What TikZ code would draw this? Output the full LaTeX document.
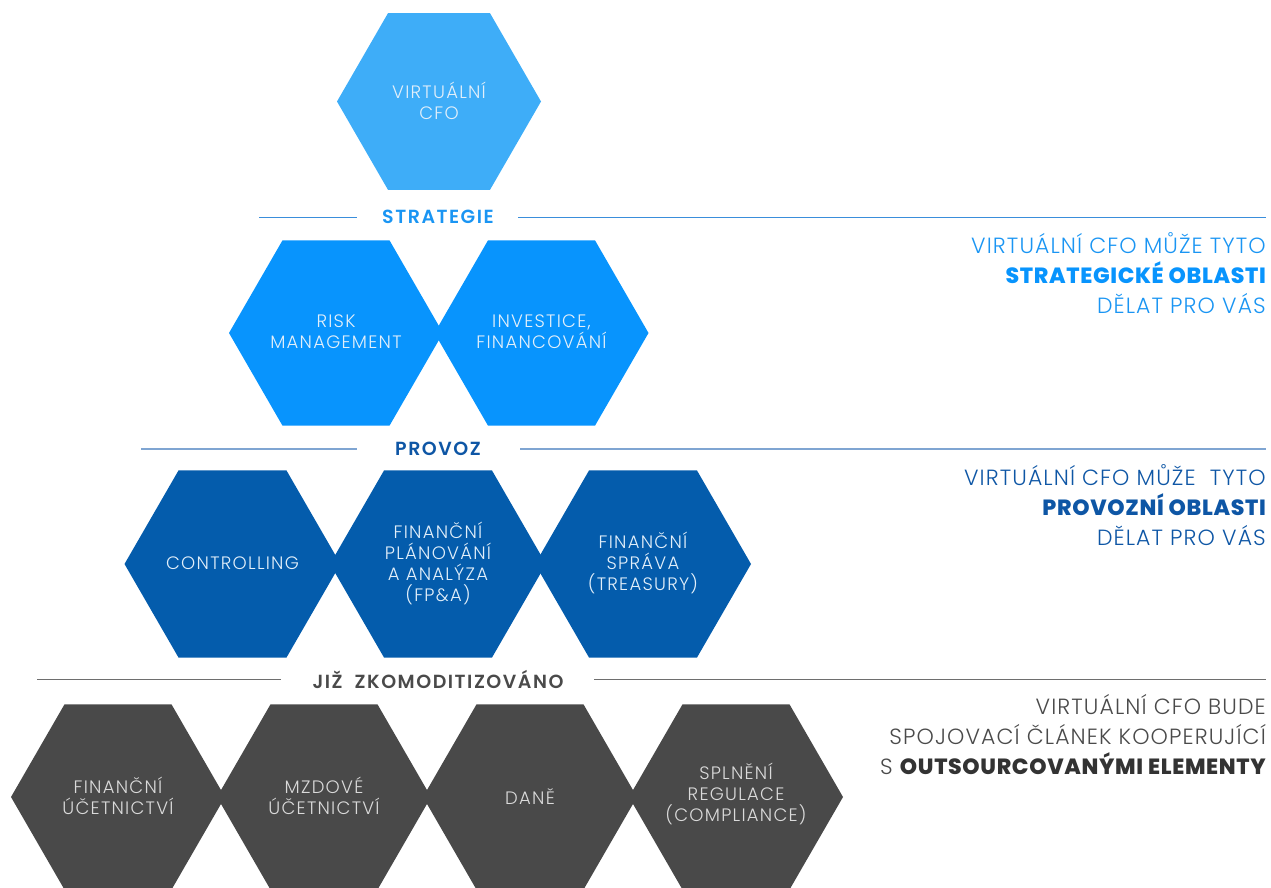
\documentclass[tikz,border=0pt]{standalone}
\usepackage{fontspec}
\setmainfont{Poppins Light}
\newfontfamily\heavyfont{Poppins ExtraBold}[LetterSpace=3]
\newfontfamily\semifont{Poppins SemiBold}[LetterSpace=8]
\newfontfamily\hexfont{Poppins Light}[LetterSpace=7]
\newfontfamily\sidefont{Poppins Light}[LetterSpace=5]
\usetikzlibrary{shapes.geometric}
\definecolor{cTop}{HTML}{3EADF8}
\definecolor{cStr}{HTML}{0894FD}
\definecolor{cPro}{HTML}{045CAC}
\definecolor{cKom}{HTML}{494949}
\definecolor{tStr}{HTML}{1A95F3}
\definecolor{tPro}{HTML}{0E56A5}
\definecolor{tKom}{HTML}{4A4A4A}
\definecolor{lStr}{HTML}{3A8EDB}
\definecolor{lPro}{HTML}{7FA5D2}
\definecolor{lKom}{HTML}{6E6E6E}
\definecolor{hexblue}{HTML}{E2EFFA}
\definecolor{hexgray}{HTML}{DADADA}
\begin{document}
\begin{tikzpicture}[x=1pt,y=-1pt,
  hexa/.style={regular polygon, regular polygon sides=6, inner sep=0pt, outer sep=0pt},
  hexkom/.style={hexa, fill=cKom, minimum size=214pt},
  hexpro/.style={hexa, fill=cPro, minimum size=216pt},
  hexstr/.style={hexa, fill=cStr, minimum size=214pt},
  hextext/.style={align=center, inner sep=0pt, text=hexblue, yshift=0.8pt,
    font=\hexfont\fontsize{18}{21}\selectfont},
  graytext/.style={hextext, text=hexgray},
  seclabel/.style={font=\semifont\fontsize{19}{20}\selectfont, inner sep=0pt},
  sideblock/.style={anchor=east, align=right, inner sep=0pt, font=\sidefont\fontsize{22}{30}\selectfont},
]
\useasboundingbox (0,0) rectangle (1271,888);

% top
\node[hexa, fill=cTop, minimum size=204pt] (cfo) at (439,101.5) {};
\node[hextext] (cfoT) at (cfo.center) {VIRTUÁLNÍ\\CFO};

% strategie
\node[seclabel, text=tStr] (lblS) at (438,217) {STRATEGIE};
\coordinate (s1) at (259,217); \coordinate (s2) at (357,217);
\coordinate (s3) at (518,217); \coordinate (s4) at (1266,217);
\draw[lStr, line width=0.9pt] (s1) -- (s2);
\draw[lStr, line width=0.9pt] (s3) -- (s4);
\node[hexstr] (risk) at (336,333) {};
\node[hextext] (riskT) at ([yshift=1pt]risk.center) {RISK\\MANAGEMENT};
\node[hexstr] (inv) at (541.5,333) {};
\node[hextext] (invT) at ([yshift=1pt]inv.center) {INVESTICE,\\FINANCOVÁNÍ};

% provoz
\node[seclabel, text=tPro] (lblP) at (438,449) {PROVOZ};
\coordinate (p1) at (141,449); \coordinate (p2) at (357,449);
\coordinate (p3) at (520,449); \coordinate (p4) at (1266,449);
\draw[lPro, line width=1.3pt] (p1) -- (p2);
\draw[lPro, line width=1.3pt] (p3) -- (p4);
\node[hexpro] (ctrl) at (232.5,564) {};
\node[hextext] (ctrlT) at (ctrl.center) {CONTROLLING};
\node[hexpro] (fpa) at (438,564) {};
\node[hextext] (fpaT) at (fpa.center) {FINANČNÍ\\PLÁNOVÁNÍ\\A ANALÝZA\\(FP\&A)};
\node[hexpro] (tre) at (643,564) {};
\node[hextext] (treT) at (tre.center) {FINANČNÍ\\SPRÁVA\\(TREASURY)};

% komodity
\node[seclabel, text=tKom] (lblK) at (438,679) {JIŽ\ \ ZKOMODITIZOVÁNO};
\coordinate (k1) at (37,679); \coordinate (k2) at (281,679);
\coordinate (k3) at (594,679); \coordinate (k4) at (1266,679);
\draw[lKom, line width=0.9pt] (k1) -- (k2);
\draw[lKom, line width=0.9pt] (k3) -- (k4);
\node[hexkom] (uct) at (118,797) {};
\node[graytext] (uctT) at (uct.center) {FINANČNÍ\\ÚČETNICTVÍ};
\node[hexkom] (mzd) at (324,797) {};
\node[graytext] (mzdT) at (mzd.center) {MZDOVÉ\\ÚČETNICTVÍ};
\node[hexkom] (dan) at (530,797) {};
\node[graytext] (danT) at (dan.center) {DANĚ};
\node[hexkom] (spl) at (736,797) {};
\node[graytext] (splT) at ([yshift=2pt]spl.center) {SPLNĚNÍ\\REGULACE\\(COMPLIANCE)};

% side texts
\node[sideblock, text=tStr] (txS) at (1266,273) {VIRTUÁLNÍ CFO MŮŽE TYTO\\{\heavyfont\color{cStr}STRATEGICKÉ OBLASTI}\\DĚLAT PRO VÁS};
\node[sideblock, text=tPro] (txP) at (1266,505.5) {VIRTUÁLNÍ CFO MŮŽE\ \ TYTO\\{\heavyfont PROVOZNÍ OBLASTI}\\DĚLAT PRO VÁS};
\node[sideblock, text=tKom] (txK) at (1266,734.5) {VIRTUÁLNÍ CFO BUDE\\SPOJOVACÍ ČLÁNEK KOOPERUJÍCÍ\\S {\heavyfont\color{black!80}OUTSOURCOVANÝMI ELEMENTY}};
\end{tikzpicture}
\end{document}
